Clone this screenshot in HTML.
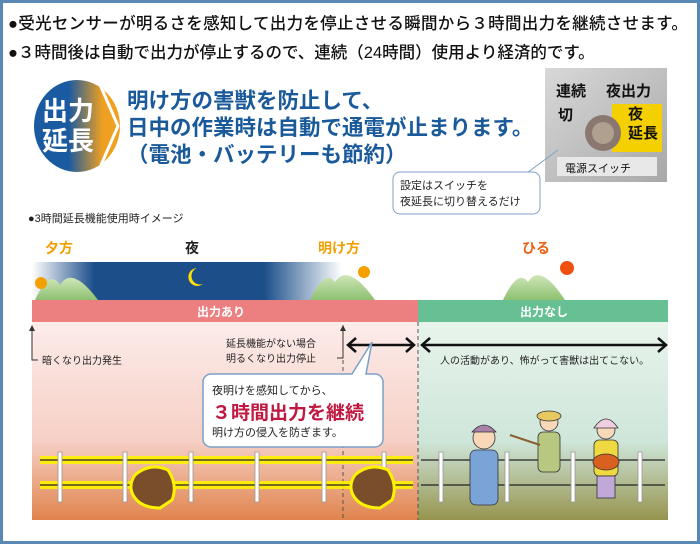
<!DOCTYPE html>
<html><head><meta charset="utf-8"><style>
*{margin:0;padding:0}
body{width:700px;height:544px;overflow:hidden;background:#fff;font-family:"Liberation Sans","Noto Sans CJK JP",sans-serif;position:relative}
.frame{position:absolute;left:0;top:0;width:694px;height:538px;border:3px solid #5a88b5}
.a{position:absolute;white-space:nowrap}
</style></head><body>
<div class="frame"></div>
<div class="a" style="left:8px;top:10px;font-size:16.5px;color:#111;letter-spacing:0.3px;font-weight:500">●受光センサーが明るさを感知して出力を停止させる瞬間から３時間出力を継続させます。</div>
<div class="a" style="left:8px;top:39px;font-size:16.5px;color:#111;letter-spacing:0px;font-weight:500">●３時間後は自動で出力が停止するので、連続（24時間）使用より経済的です。</div>

<svg class="a" style="left:0;top:0" width="700" height="544">
<defs>
<linearGradient id="bo" x1="0" x2="1"><stop offset="0.4" stop-color="#1a5aa0"/><stop offset="0.8" stop-color="#f0a020"/></linearGradient>
<linearGradient id="sky" x1="0" x2="1"><stop offset="0" stop-color="#fff"/><stop offset="0.2" stop-color="#1c4f8a"/><stop offset="0.75" stop-color="#1c4f8a"/><stop offset="1" stop-color="#fff"/></linearGradient>
<linearGradient id="pk" x1="0" y1="0" x2="0" y2="1"><stop offset="0" stop-color="#fcecea"/><stop offset="0.6" stop-color="#f6d0c6"/><stop offset="1" stop-color="#e0844c"/></linearGradient>
<linearGradient id="gr" x1="0" y1="0" x2="0" y2="1"><stop offset="0" stop-color="#e8f4ec"/><stop offset="0.6" stop-color="#cfe6da"/><stop offset="1" stop-color="#96944e"/></linearGradient>
<linearGradient id="mt" x1="0" y1="0" x2="0" y2="1"><stop offset="0" stop-color="#cfe6b8"/><stop offset="1" stop-color="#8cc070"/></linearGradient>
<linearGradient id="sw" x1="0" y1="0" x2="1" y2="1"><stop offset="0" stop-color="#d8d8d8"/><stop offset="1" stop-color="#a8a8a8"/></linearGradient>
</defs>
<ellipse cx="77" cy="126" rx="43" ry="46" fill="url(#bo)"/>
<path d="M98 80 L118 126 L98 172" fill="none" stroke="#fff" stroke-width="3"/>
<rect x="545" y="68" width="122" height="114" fill="url(#sw)"/>
<rect x="612" y="104" width="50" height="48" fill="#f5d000"/>
<circle cx="603" cy="133" r="18" fill="#8a7870"/><circle cx="603" cy="133" r="11" fill="#b0a090"/>
<rect x="557" y="157" width="100" height="19" fill="#e8e8e8"/>
<path d="M558 150 L520 178" stroke="#7ba0c8"/>
<rect x="393" y="172" width="147" height="42" rx="7" fill="#fff" stroke="#7ba0c8"/>
<rect x="32" y="262" width="310" height="38" fill="url(#sky)"/>
<path d="M35 300 Q50 268 60 285 Q72 265 98 300Z" fill="url(#mt)"/>
<path d="M310 300 Q325 268 335 282 Q348 262 375 300Z" fill="url(#mt)"/>
<path d="M503 300 Q518 268 528 282 Q540 262 565 300Z" fill="url(#mt)"/>
<circle cx="41" cy="283" r="6" fill="#f5a000"/><circle cx="364" cy="272" r="6" fill="#f5a000"/><circle cx="567" cy="268" r="7" fill="#ee5010"/>
<path d="M197 268 A9 9 0 1 0 203 284 A7 7 0 1 1 197 268Z" fill="#ffe000"/>
<rect x="32" y="300" width="386" height="22" fill="#ec8080"/>
<rect x="418" y="300" width="250" height="22" fill="#66c094"/>
<rect x="32" y="322" width="386" height="198" fill="url(#pk)"/>
<rect x="418" y="322" width="250" height="198" fill="url(#gr)"/>
<line x1="418" y1="322" x2="418" y2="520" stroke="#555" stroke-dasharray="4 3"/>
<line x1="343" y1="325" x2="343" y2="520" stroke="#555" stroke-dasharray="4 3"/>
<path d="M32 326 V360 H38 M343 326 V358 H337" fill="none" stroke="#333"/>
<path d="M29 331 L32 325 L35 331Z M340 331 L343 325 L346 331Z" fill="#333"/>
<g stroke="#111" stroke-width="2.5" fill="none">
<line x1="348" y1="345" x2="414" y2="345"/><path d="M356 338 L348 345 L356 352 M406 338 L414 345 L406 352"/>
<line x1="422" y1="345" x2="666" y2="345"/><path d="M430 338 L422 345 L430 352 M658 338 L666 345 L658 352"/>
</g>
<path d="M213 374 H352 L372 342 L366 374 H375 A8 8 0 0 1 383 382 V439 A8 8 0 0 1 375 447 H211 A8 8 0 0 1 203 439 V382 A8 8 0 0 1 211 374Z" fill="#fff" stroke="#7ba0c8" stroke-width="1.5"/>
<g stroke="#fff200" stroke-width="8" opacity="0.9"><line x1="40" y1="460" x2="413" y2="460"/><line x1="40" y1="485" x2="413" y2="485"/></g>
<g stroke="#222" stroke-width="1.2"><line x1="40" y1="460" x2="413" y2="460"/><line x1="40" y1="485" x2="413" y2="485"/><line x1="421" y1="460" x2="665" y2="460"/><line x1="421" y1="485" x2="665" y2="485"/></g>
<g fill="#fff" stroke="#999" stroke-width="0.8">
<rect x="58" y="452" width="4" height="50"/><rect x="123" y="452" width="4" height="50"/><rect x="189" y="452" width="4" height="50"/><rect x="255" y="452" width="4" height="50"/><rect x="322" y="452" width="4" height="50"/><rect x="382" y="452" width="4" height="50"/>
<rect x="439" y="452" width="4" height="50"/><rect x="505" y="452" width="4" height="50"/><rect x="571" y="452" width="4" height="50"/><rect x="638" y="452" width="4" height="50"/>
</g>
<g fill="#7a4e2a" stroke="#fff200" stroke-width="3"><path d="M135 475 Q150 462 168 470 Q178 485 172 500 L160 508 Q140 508 133 495 Q128 485 135 475Z"/><path d="M355 475 Q370 462 388 470 Q398 485 392 500 L380 508 Q360 508 353 495 Q348 485 355 475Z"/></g>
<g stroke="#333" stroke-width="0.8">
<rect x="470" y="450" width="28" height="55" rx="6" fill="#7aa4d8"/><circle cx="484" cy="438" r="11" fill="#f8d8b8"/><path d="M472 432 Q484 418 496 432Z" fill="#a880a8"/>
<rect x="538" y="432" width="22" height="40" rx="5" fill="#b8c880"/><circle cx="549" cy="422" r="9" fill="#f8d8b8"/><ellipse cx="549" cy="416" rx="12" ry="5" fill="#e8c860"/>
<rect x="594" y="440" width="24" height="36" rx="5" fill="#f0d840"/><rect x="597" y="476" width="18" height="22" fill="#c0a8d8"/><circle cx="606" cy="430" r="9" fill="#f8d8b8"/><path d="M594 428 Q606 410 618 428Z" fill="#f0d0e0"/><ellipse cx="606" cy="462" rx="13" ry="8" fill="#d86020"/>
</g>
<path d="M510 435 L540 445" stroke="#8a6030" stroke-width="2"/>
</svg>

<div class="a" style="left:42px;top:96px;font-size:26px;font-weight:bold;color:#fff;line-height:30px">出力<br>延長</div>
<div class="a" style="left:127px;top:88px;font-size:21.5px;font-weight:bold;color:#1a5a9a;line-height:27px">明け方の害獣を防止して、<br>日中の作業時は自動で通電が止まります。<br>（電池・バッテリーも節約）</div>
<div class="a" style="left:556px;top:80px;font-size:15px;font-weight:bold;color:#111">連続</div>
<div class="a" style="left:606px;top:80px;font-size:15px;font-weight:bold;color:#111">夜出力</div>
<div class="a" style="left:558px;top:104px;font-size:15px;font-weight:bold;color:#111">切</div>
<div class="a" style="left:628px;top:105px;font-size:15px;font-weight:bold;color:#111;line-height:19px">夜<br>延長</div>
<div class="a" style="left:565px;top:160px;font-size:11px;color:#111">電源スイッチ</div>
<div class="a" style="left:400px;top:178px;font-size:11px;color:#222;line-height:16px">設定はスイッチを<br>夜延長に切り替えるだけ</div>
<div class="a" style="left:28px;top:210px;font-size:11px;color:#222">●3時間延長機能使用時イメージ</div>
<div class="a" style="left:45px;top:238px;font-size:14px;font-weight:bold;color:#f0a000">夕方</div>
<div class="a" style="left:185px;top:238px;font-size:14px;font-weight:bold;color:#222">夜</div>
<div class="a" style="left:318px;top:238px;font-size:14px;font-weight:bold;color:#f0a000">明け方</div>
<div class="a" style="left:522px;top:238px;font-size:14px;font-weight:bold;color:#e86010">ひる</div>
<div class="a" style="left:197px;top:303px;font-size:12px;font-weight:bold;color:#fff">出力あり</div>
<div class="a" style="left:520px;top:303px;font-size:12px;font-weight:bold;color:#fff">出力なし</div>
<div class="a" style="left:42px;top:352px;font-size:10px;color:#222">暗くなり出力発生</div>
<div class="a" style="left:226px;top:337px;font-size:10px;color:#222;line-height:15px">延長機能がない場合<br>明るくなり出力停止</div>
<div class="a" style="left:440px;top:352px;font-size:10px;color:#222">人の活動があり、怖がって害獣は出てこない。</div>
<div class="a" style="left:212px;top:382px;font-size:11px;color:#222">夜明けを感知してから、</div>
<div class="a" style="left:212px;top:398px;font-size:19px;font-weight:bold;color:#c01840">３時間出力を継続</div>
<div class="a" style="left:212px;top:424px;font-size:11px;color:#222">明け方の侵入を防ぎます。</div>
</body></html>
